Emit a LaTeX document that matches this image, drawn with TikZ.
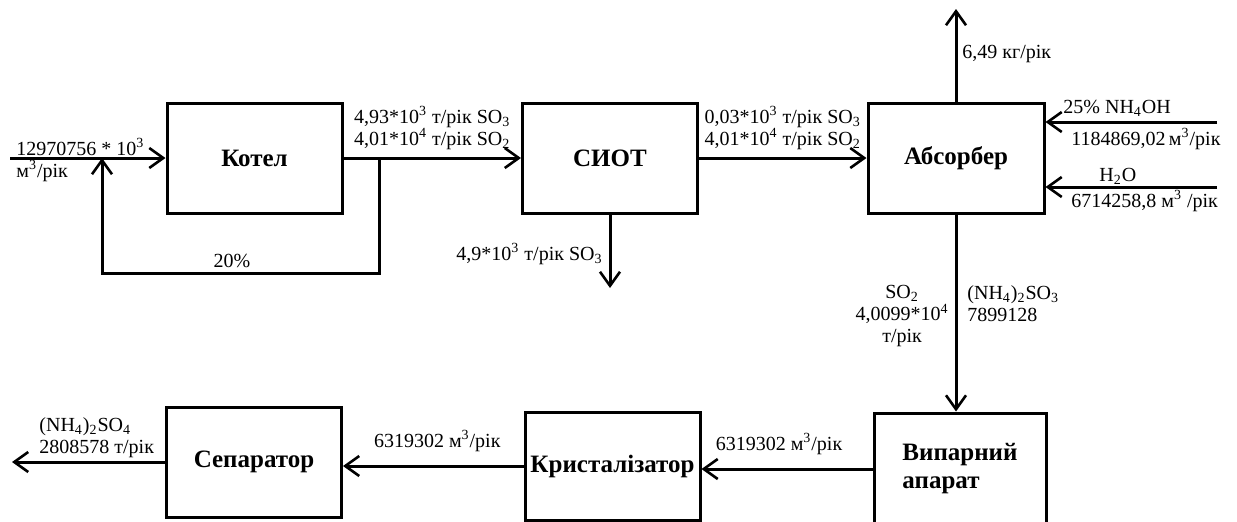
\documentclass[tikz,border=0pt]{standalone}
\usepackage{fontspec}
\setmainfont{Liberation Serif}
\usetikzlibrary{arrows.meta, positioning}

\begin{document}
\begin{tikzpicture}[x=0.5pt, y=-0.5pt,
  box/.style={rectangle, draw, line width=1.5pt, minimum width=87.5pt, minimum height=55pt,
              text centered, inner sep=0pt, font=\fontsize{12.5}{14}\selectfont\bfseries},
  arrow/.style={-{Straight Barb[length=7pt, width=10pt, line width=1.3pt]}, line width=1.5pt},
  lbl/.style={inner sep=0.5pt, font=\fontsize{10}{11}\selectfont}
]
\path[use as bounding box, fill=white] (0,0) rectangle (1237,521);

% apparatus
\node[box] (kotel) at (254.5,158) {Котел};
\node[box] (siot) at (610,158) {СИОТ};
\node[box, minimum width=88pt] (absorber) at (956,158) {Абсорбер};
\node[box, minimum width=86pt, minimum height=56pt, align=left] (evap) at (960,469) {Випарний\\апарат};
\node[box, minimum height=54pt] (kryst) at (612.5,466) {Кристалізатор};
\node[box] (sep) at (254,462) {Сепаратор};

% free ends
\coordinate (feed) at (10,158);
\coordinate (loopup) at (379,158);
\coordinate (loopdn) at (102,273);
\coordinate (siotout) at (610,288);
\coordinate (gas) at (956,9);
\coordinate (ammonia) at (1217,122);
\coordinate (water) at (1217,187);
\coordinate (product) at (12,462);

% flows
\draw[arrow] (feed) -- (kotel.west);
\draw[arrow] (kotel.east) -- node[lbl, above=3pt, align=left]
  {4,93*10\textsuperscript{3} т/рік SO\textsubscript{3}\\4,01*10\textsuperscript{4} т/рік SO\textsubscript{2}} (siot.west);
\draw[arrow] (loopup) |- (loopdn) -- (loopdn |- feed);
\draw[arrow] (siot.south) -- (siotout);
\draw[arrow] (siot.east) -- node[lbl, above=3pt, align=left]
  {0,03*10\textsuperscript{3} т/рік SO\textsubscript{3}\\4,01*10\textsuperscript{4} т/рік SO\textsubscript{2}} (absorber.west);
\draw[arrow] (absorber.north) -- (gas);
\draw[arrow] (ammonia) -- (ammonia -| absorber.east);
\draw[arrow] (water) -- (water -| absorber.east);
\draw[arrow] (absorber.south) -- (absorber.south |- evap.north);
\draw[arrow] (evap.west) -- node[lbl, above=6pt, xshift=-4pt] {6319302 м\textsuperscript{3}/рік} (evap.west -| kryst.east);
\draw[arrow] (kryst.west) -- node[lbl, above=6pt, xshift=2pt] {6319302 м\textsuperscript{3}/рік} (kryst.west -| sep.east);
\draw[arrow] (sep.west) -- (sep.west -| product);

% labels
\node[lbl, anchor=base west] at (15,155) {12970756 * 10\textsuperscript{3}};
\node[lbl, anchor=base west] at (15,177) {м\textsuperscript{3}/рік};
\node[lbl] at (232,261) {20\%};
\node[lbl, anchor=base east] at (604,260) {4,9*10\textsuperscript{3} т/рік SO\textsubscript{3}};
\node[lbl, anchor=base west] at (961,58) {6,49 кг/рік};
\node[lbl, anchor=base west] at (1062,113) {25\% NH\textsubscript{4}OH};
\node[lbl, anchor=base west] at (1070,145) {1184869,02\,м\textsuperscript{3}/рік};
\node[lbl, anchor=base west] at (1098,181) {H\textsubscript{2}O};
\node[lbl, anchor=base west] at (1070,207) {6714258,8 м\textsuperscript{3} /рік};
\node[lbl, align=center, anchor=north east] at (950,284) {SO\textsubscript{2}\\4,0099*10\textsuperscript{4}\\т/рік};
\node[lbl, align=left, anchor=north west] at (966,284) {(NH\textsubscript{4})\textsubscript{2}SO\textsubscript{3}\\7899128};
\node[lbl, align=left, anchor=south west] at (38,459) {(NH\textsubscript{4})\textsubscript{2}SO\textsubscript{4}\\2808578 т/рік};
\end{tikzpicture}
\end{document}
